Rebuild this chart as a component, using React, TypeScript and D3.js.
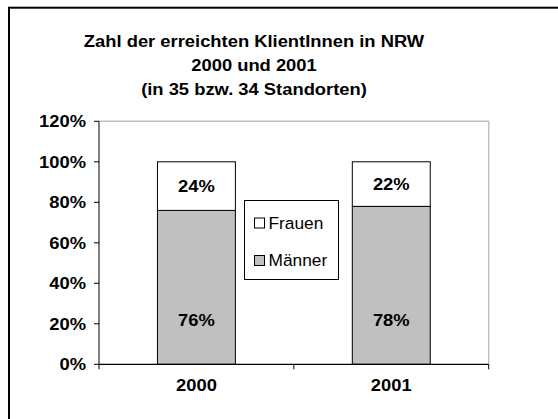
import React, { useRef, useEffect } from "react";
import * as d3 from "d3";

// chart data
const years = ["2000", "2001"];
const maenner = [0.76, 0.78];
const frauen = [0.24, 0.22];
const seriesNames = ["Männer", "Frauen"];
const seriesColors = ["#c0c0c0", "#ffffff"];
const yTicks = [0, 0.2, 0.4, 0.6, 0.8, 1.0, 1.2];
const titleLines = [
  "Zahl der erreichten KlientInnen in NRW",
  "2000 und 2001",
  "(in 35 bzw. 34 Standorten)",
];

const FONT = "'Liberation Sans', Arial, sans-serif";
const STRETCH = 1.08; // the original text is rendered a bit wide

export default function App() {
  const svgRef = useRef<SVGSVGElement>(null);

  useEffect(() => {
    const width = 558;
    const height = 419;
    const plot = { left: 99, right: 488.7, top: 121.3, bottom: 364.3 };

    const svg = d3.select(svgRef.current).attr("width", width).attr("height", height);
    svg.selectAll("*").remove();

    svg.append("rect").attr("width", width).attr("height", height).attr("fill", "#fff");

    // outer chart border (runs off the right / bottom edge)
    svg
      .append("rect")
      .attr("x", 9)
      .attr("y", 7.7)
      .attr("width", 560)
      .attr("height", 430)
      .attr("fill", "none")
      .attr("stroke", "#000")
      .attr("stroke-width", 2);

    // helper for horizontally stretched text
    const addText = (
      g: d3.Selection<any, any, any, any>,
      x: number,
      y: number,
      txt: string,
      size: number,
      bold: boolean,
      anchor: string,
      sx = STRETCH
    ) =>
      g
        .append("text")
        .attr("transform", `translate(${x},${y}) scale(${sx},1)`)
        .attr("text-anchor", anchor)
        .attr("font-family", FONT)
        .attr("font-size", size)
        .attr("font-weight", bold ? "bold" : "normal")
        .attr("fill", "#000")
        .text(txt);

    // title
    titleLines.forEach((t, i) => addText(svg, 254, 47 + i * 24, t, 17, true, "middle"));

    const x = d3
      .scaleBand<string>()
      .domain(years)
      .range([plot.left, plot.right])
      .paddingInner(0.6)
      .paddingOuter(0.3);
    const y = d3.scaleLinear().domain([0, 1.2]).range([plot.bottom, plot.top]);

    // plot area frame (gray top/right)
    svg
      .append("path")
      .attr("d", `M${plot.left},${plot.top}H${plot.right}V${plot.bottom}`)
      .attr("fill", "none")
      .attr("stroke", "#c0c0c0")
      .attr("stroke-width", 1.5);

    // stacked bars
    const table = years.map((yr, i) => ({ year: yr, Männer: maenner[i], Frauen: frauen[i] }));
    const stacked = d3.stack<any>().keys(seriesNames)(table);

    stacked.forEach((layer, li) => {
      svg
        .append("g")
        .selectAll("rect")
        .data(layer)
        .join("rect")
        .attr("x", (d) => x(d.data.year)!)
        .attr("width", x.bandwidth())
        .attr("y", (d) => y(d[1]))
        .attr("height", (d) => y(d[0]) - y(d[1]))
        .attr("fill", seriesColors[li])
        .attr("stroke", "#000")
        .attr("stroke-width", 1);
    });

    // value labels
    const labels = svg.append("g");
    stacked.forEach((layer, li) => {
      layer.forEach((d) => {
        const cx = x(d.data.year)! + x.bandwidth() / 2;
        const v = d[1] - d[0];
        const ly = li === 0 ? y(0) - 38 : (y(d[0]) + y(d[1])) / 2 + 5.5;
        addText(labels, cx, ly, d3.format(".0%")(v), 17, true, "middle");
      });
    });

    // y axis
    const yAxis = svg.append("g");
    yAxis
      .append("line")
      .attr("x1", plot.left)
      .attr("x2", plot.left)
      .attr("y1", plot.top)
      .attr("y2", plot.bottom)
      .attr("stroke", "#000");
    yTicks.forEach((t) => {
      yAxis
        .append("line")
        .attr("x1", plot.left - 5)
        .attr("x2", plot.left)
        .attr("y1", y(t))
        .attr("y2", y(t))
        .attr("stroke", "#000");
      addText(yAxis, 86, y(t) + 6, d3.format(".0%")(t), 17, true, "end");
    });

    // x axis
    const xAxis = svg.append("g");
    xAxis
      .append("line")
      .attr("x1", plot.left)
      .attr("x2", plot.right)
      .attr("y1", plot.bottom)
      .attr("y2", plot.bottom)
      .attr("stroke", "#000")
      .attr("stroke-width", 1.3);
    const bounds = [plot.left, plot.left + x.step(), plot.right];
    bounds.forEach((bx) =>
      xAxis
        .append("line")
        .attr("x1", bx)
        .attr("x2", bx)
        .attr("y1", plot.bottom)
        .attr("y2", plot.bottom + 5)
        .attr("stroke", "#000")
    );
    years.forEach((yr) =>
      addText(xAxis, x(yr)! + x.bandwidth() / 2, 391, yr, 17, true, "middle")
    );

    // legend
    const lg = svg.append("g");
    lg.append("rect")
      .attr("x", 244.5)
      .attr("y", 200.5)
      .attr("width", 94)
      .attr("height", 79)
      .attr("fill", "#fff")
      .attr("stroke", "#000");
    const legendItems = [
      { name: "Frauen", color: seriesColors[1], base: 228.5 },
      { name: "Männer", color: seriesColors[0], base: 266 },
    ];
    legendItems.forEach((it) => {
      lg.append("rect")
        .attr("x", 254.5)
        .attr("y", it.base - 10.5)
        .attr("width", 10)
        .attr("height", 10)
        .attr("fill", it.color)
        .attr("stroke", "#000");
      addText(lg, 268.5, it.base, it.name, 16.5, false, "start", 1.05);
    });
  }, []);

  return (
    <svg
      ref={svgRef}
      style={{ position: "absolute", left: 0, top: 0, display: "block" }}
    />
  );
}
